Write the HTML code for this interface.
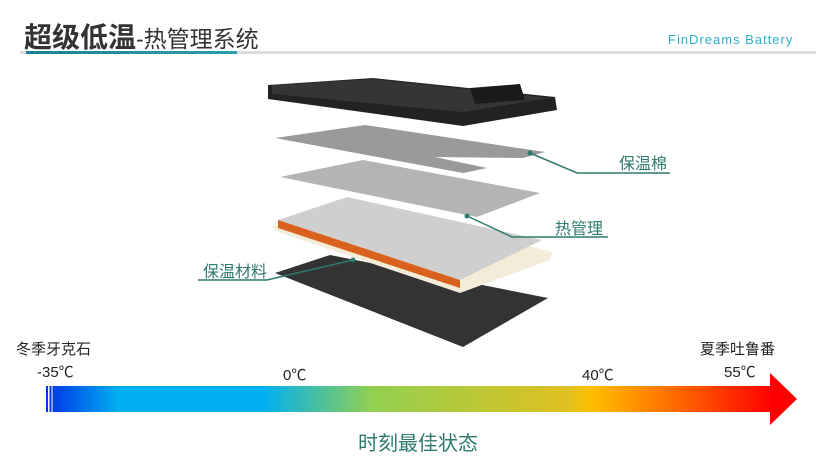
<!DOCTYPE html>
<html><head><meta charset="utf-8"><style>
body{margin:0;background:#fff;width:830px;height:458px;overflow:hidden;position:relative;font-family:"Liberation Sans","Noto Sans CJK SC",sans-serif}
.t{position:absolute;white-space:nowrap}
</style></head><body>
<div class="t" style="left:24px;top:16px;font-size:28px;font-weight:bold;color:#333">超级低温<span style="font-size:23px;font-weight:normal;">-热管理系统</span></div>
<div class="t" style="left:668px;top:32px;font-size:13px;color:#2ab0d0;letter-spacing:1px">FinDreams Battery</div>
<div style="position:absolute;left:20px;top:51px;width:796px;height:3px;background:#ddd"></div>
<div style="position:absolute;left:26px;top:51px;width:211px;height:3px;background:linear-gradient(90deg,#1a7f9a,#2aa0b5)"></div>
<svg width="830" height="458" style="position:absolute;left:0;top:0">
<defs>
<linearGradient id="g" x1="0" x2="1">
<stop offset="0" stop-color="#0030e8"/><stop offset="0.1" stop-color="#00b0f0"/><stop offset="0.3" stop-color="#00b0f0"/><stop offset="0.45" stop-color="#92d050"/><stop offset="0.72" stop-color="#e0c020"/><stop offset="0.75" stop-color="#ffc000"/><stop offset="0.88" stop-color="#ff6000"/><stop offset="1" stop-color="#ff0000"/>
</linearGradient>
</defs>
<polygon points="268,85 373,78 555,97 557,110 463,126 268,99" fill="#222"/>
<polygon points="272,85 373,79 550,98 463,112 272,94" fill="#353535"/>
<polygon points="470,88 520,84 525,100 475,104" fill="#1a1a1a"/>
<polygon points="275,138 365,125 545,152 523,158 435,157 487,168 463,173" fill="#9a9a9a"/>
<polygon points="280,177 363,160 540,193 477,217" fill="#b4b4b4"/>
<polygon points="275,273 330,255 548,298 463,347" fill="#333"/>
<polygon points="272,227 347,200 552,252 550,260 460,293 278,232" fill="#f3ecd8"/>
<polygon points="278,220 347,197 542,240 460,280" fill="#cfcfcf"/>
<polygon points="278,220 460,280 460,288 278,228" fill="#d9621f"/>
<g stroke="#2e7a6e" stroke-width="1.5" fill="none">
<polyline points="530,153 577,173 670,173"/>
<polyline points="467,216 512,237 608,237"/>
<polyline points="353,260 267,280 198,280"/>
</g>
<circle cx="530" cy="153" r="2.5" fill="#2e7a6e"/><circle cx="467" cy="216" r="2.5" fill="#2e7a6e"/><circle cx="353" cy="260" r="2.5" fill="#2e7a6e"/>
<rect x="46" y="386" width="726" height="26" fill="url(#g)"/>
<polygon points="770,373 797,399 770,425" fill="#ff0000"/>
<rect x="48" y="386" width="1.5" height="26" fill="#fff"/><rect x="51.5" y="386" width="1" height="26" fill="#fff"/>
</svg>
<div class="t" style="left:619px;top:150px;font-size:16px;color:#2e7a6e">保温棉</div>
<div class="t" style="left:555px;top:215px;font-size:16px;color:#2e7a6e">热管理</div>
<div class="t" style="left:203px;top:258px;font-size:16px;color:#2e7a6e">保温材料</div>
<div class="t" style="left:16px;top:338px;font-size:15px;color:#222">冬季牙克石</div>
<div class="t" style="left:700px;top:338px;font-size:15px;color:#222">夏季吐鲁番</div>
<div class="t" style="left:37px;top:361px;font-size:15px;color:#222">-35℃</div>
<div class="t" style="left:283px;top:364px;font-size:15px;color:#222">0℃</div>
<div class="t" style="left:582px;top:364px;font-size:15px;color:#222">40℃</div>
<div class="t" style="left:724px;top:361px;font-size:15px;color:#222">55℃</div>
<div class="t" style="left:358px;top:427px;font-size:20px;color:#2e7a6e">时刻最佳状态</div>
</body></html>
